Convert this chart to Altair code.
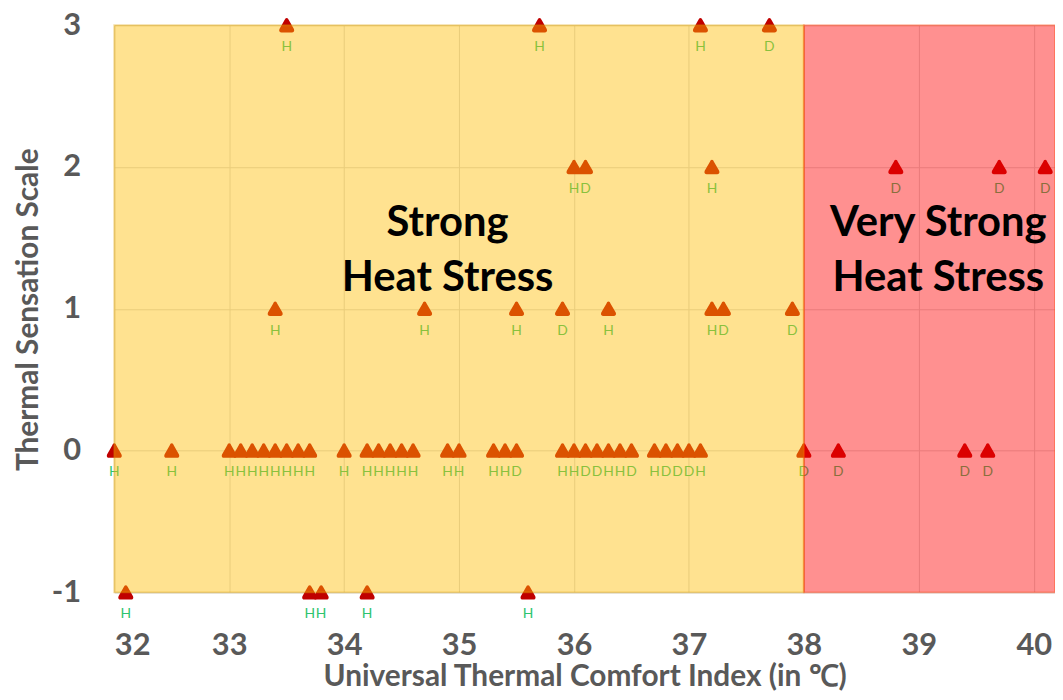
import altair as alt
import pandas as pd

# ---- data ----
row3_x = [33.5, 35.7, 37.1, 37.7]
row3_lab = ["H", "H", "H", "D"]

row2_x = [36.0, 36.1, 37.2, 38.8, 39.7, 40.1]
row2_lab = ["H", "D", "H", "D", "D", "D"]

row1_x = [33.4, 34.7, 35.5, 35.9, 36.3, 37.2, 37.3, 37.9]
row1_lab = ["H", "H", "H", "D", "H", "H", "D", "D"]

row0_x = [32.0, 32.5,
          33.0, 33.1, 33.2, 33.3, 33.4, 33.5, 33.6, 33.7,
          34.0,
          34.2, 34.3, 34.4, 34.5, 34.6,
          34.9, 35.0,
          35.3, 35.4, 35.5,
          35.9, 36.0, 36.1, 36.2, 36.3, 36.4, 36.5,
          36.7, 36.8, 36.9, 37.0, 37.1,
          38.0, 38.3, 39.4, 39.6]
row0_lab = ["H", "H",
            "H", "H", "H", "H", "H", "H", "H", "H",
            "H",
            "H", "H", "H", "H", "H",
            "H", "H",
            "H", "H", "D",
            "H", "H", "D", "D", "H", "H", "D",
            "H", "D", "D", "D", "H",
            "D", "D", "D", "D"]

rowm1_x = [32.1, 33.7, 33.8, 34.2, 35.6]
rowm1_lab = ["H", "H", "H", "H", "H"]

x_ticks = [32, 33, 34, 35, 36, 37, 38, 39, 40]
y_ticks = [-1, 0, 1, 2, 3]

zone_start = [32, 38]
zone_end = [38, 40.185]
zone_name = ["Strong Heat Stress", "Very Strong Heat Stress"]

# ---- build tables ----
rows = []
for yv, xs, labs in [(3, row3_x, row3_lab), (2, row2_x, row2_lab),
                     (1, row1_x, row1_lab), (0, row0_x, row0_lab),
                     (-1, rowm1_x, rowm1_lab)]:
    for xv, lb in zip(xs, labs):
        rows.append({"utci": xv, "tss": yv, "grp": lb})
pts = pd.DataFrame(rows)
zones = pd.DataFrame({"x0": zone_start, "x1": zone_end, "zone": zone_name})

FONT = "Lato"
GREY = "#595959"

xscale = alt.Scale(domain=[32, 40.185], nice=False, zero=False)
yscale = alt.Scale(domain=[-1, 3], nice=False, zero=False)

xaxis = alt.Axis(values=x_ticks, labelExpr="'' + datum.value", grid=True,
                 gridColor="#d9d9d9", ticks=False, domainColor="#d9d9d9",
                 labelPadding=39, labelBaseline="top", labelFontSize=31,
                 title="Universal Thermal Comfort Index (in ℃)",
                 titleY=85, titleBaseline="middle")
yaxis = alt.Axis(values=y_ticks, labelExpr="'' + datum.value", grid=True,
                 gridColor="#d9d9d9", ticks=False, domain=False,
                 labelPadding=34, labelFontSize=31,
                 title="Thermal Sensation Scale", titleX=-86, titleY=286,
                 titleBaseline="middle")

tri = ("M0,-0.95 C0.14,-0.95 0.2,-0.82 0.26,-0.7 L0.95,0.5 "
       "C1.06,0.78 0.92,0.95 0.68,0.95 L-0.68,0.95 "
       "C-0.92,0.95 -1.06,0.78 -0.95,0.5 L-0.26,-0.7 "
       "C-0.2,-0.82 -0.14,-0.95 0,-0.95 Z")

base = alt.Chart(pts)

points = base.mark_point(shape=tri, filled=True, size=235, color="#c00000",
                         opacity=1).encode(
    x=alt.X("utci:Q", scale=xscale, axis=xaxis),
    y=alt.Y("tss:Q", scale=yscale, axis=yaxis),
)

labels = base.mark_text(dy=22, font=FONT, fontSize=14, color="#2ec46e",
                        baseline="middle").encode(
    x="utci:Q", y="tss:Q", text="grp:N"
)

rects = alt.Chart(zones).mark_rect(fillOpacity=0.435, strokeOpacity=0.35,
                                   strokeWidth=2).encode(
    x="x0:Q", x2="x1:Q", y=alt.datum(3), y2=alt.datum(-1),
    color=alt.Color("zone:N", legend=None,
                    scale=alt.Scale(domain=zone_name,
                                    range=["#ffbc00", "#ff0000"])),
    stroke=alt.Stroke("zone:N", legend=None,
                      scale=alt.Scale(domain=zone_name,
                                      range=["#e0a000", "#ff4000"])),
)

one = alt.Data(values=[{"k": 0}])
t1 = alt.Chart(one).mark_text(text=["Strong", "Heat Stress"], font=FONT,
                              fontWeight="bold", fontSize=42, lineHeight=56,
                              color="black", align="center",
                              baseline="middle").encode(
    x=alt.datum(34.9), y=alt.datum(1.606))
t2 = alt.Chart(one).mark_text(text=["Very Strong", "Heat Stress"], font=FONT,
                              fontWeight="bold", fontSize=42, lineHeight=56,
                              color="black", align="center",
                              baseline="middle").encode(
    x=alt.datum(39.17), y=alt.datum(1.606))

chart = alt.layer(points, labels, rects, t1, t2).properties(
    width=947, height=571,
    autosize=alt.AutoSizeParams(type="none"),
    padding={"left": 107, "top": 15, "right": 0, "bottom": 98},
).configure_view(stroke=None).configure_axis(
    labelFont=FONT, labelFontWeight="bold",
    labelColor=GREY, titleFont=FONT, titleFontWeight="bold",
    titleFontSize=30, titleColor=GREY
)

chart.save("out.html", embed_options={"renderer": "svg", "actions": False})
